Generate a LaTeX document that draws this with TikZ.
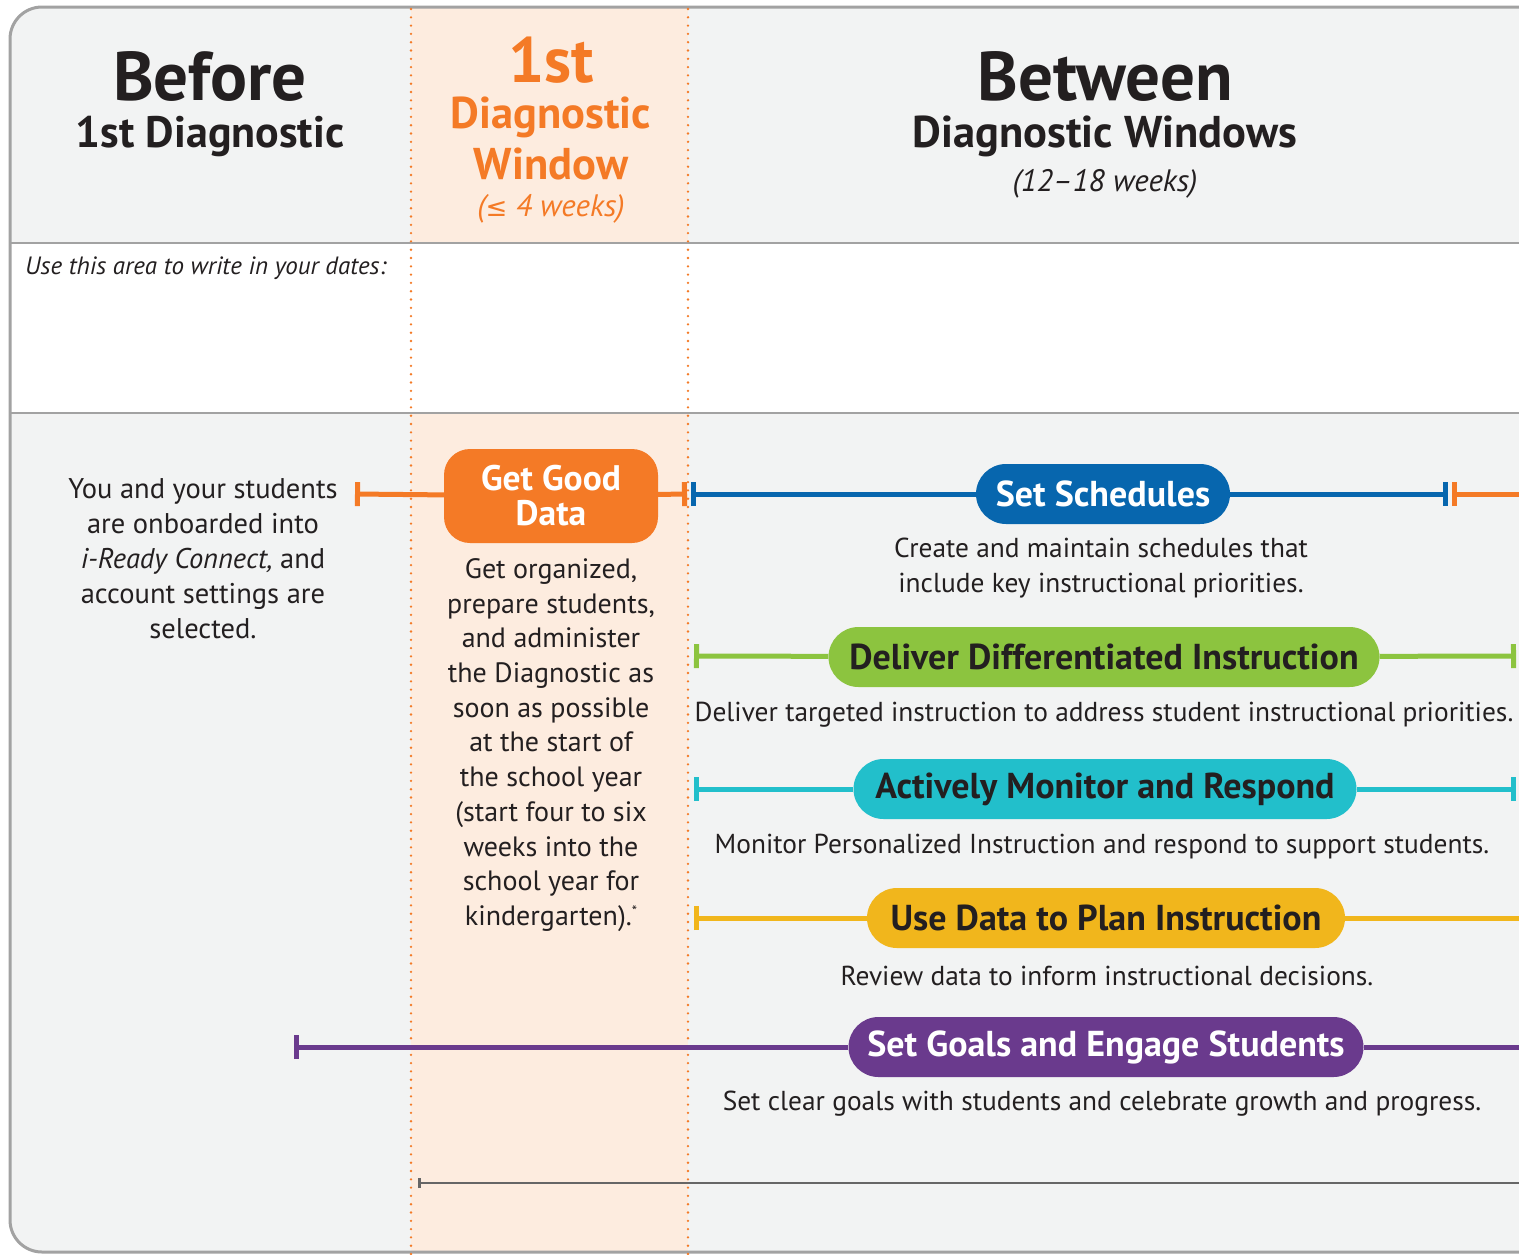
\documentclass[tikz,border=0pt]{standalone}
\usepackage{fontspec}
\setmainfont{PT Sans}
\newfontfamily\symfont{DejaVu Sans}
\usetikzlibrary{arrows.meta}

\definecolor{gdorange}{HTML}{F47A26}
\definecolor{ssblue}{HTML}{0766AE}
\definecolor{ddgreen}{HTML}{8CC43F}
\definecolor{amteal}{HTML}{22BFCB}
\definecolor{udyellow}{HTML}{F1B61C}
\definecolor{sgpurple}{HTML}{6A3A8D}
\definecolor{panel}{HTML}{F2F3F3}
\definecolor{peach}{HTML}{FDECDF}
\definecolor{rule}{HTML}{A2A2A2}
\definecolor{ink}{HTML}{231F20}

\tikzstyle{pill} = [rounded corners=30pt, minimum height=60pt, inner sep=0pt, text=white, font=\fontsize{36}{38}\selectfont\bfseries]
\tikzstyle{desc} = [text=ink, font=\fontsize{27.4}{35}\selectfont, align=center]
\tikzstyle{bar} = [line width=5pt]

\begin{document}
\begin{tikzpicture}[x=1pt,y=-1pt,every node/.style={inner sep=0pt}]
  \useasboundingbox (0,0) rectangle (1519,1254);
  % panels
  \fill[white] (0,0) rectangle (1519,1254);
  \fill[panel, rounded corners=32pt] (10,7) rectangle (1580,1252);
  \fill[white] (10,243) rectangle (1580,413);
  \fill[peach] (411,7) rectangle (688,243);
  \fill[peach] (411,413) rectangle (688,1252);
  \draw[rule, line width=1.5pt] (10,243) -- (1519,243);
  \draw[rule, line width=1.5pt] (10,413) -- (1519,413);
  \draw[rule, line width=3pt, rounded corners=32pt] (1580,7) -- (10,7) -- (10,1252) -- (1580,1252);
  \draw[gdorange, line width=2.6pt, line cap=round, dash pattern=on 0pt off 8.3pt] (411,9) -- (411,1254);
  \draw[gdorange, line width=2.6pt, line cap=round, dash pattern=on 0pt off 8.3pt] (688,9) -- (688,1254);

  % headers
  \node[text=ink, font=\fontsize{69}{70}\selectfont\bfseries] (before) at (210,76) {Before};
  \node[text=ink, font=\fontsize{44}{46}\selectfont\bfseries] (beforesub) at (210,136) {1st Diagnostic};
  \node[text=gdorange, font=\fontsize{64}{66}\selectfont\bfseries] (first) at (551,60) {1st};
  \node[text=gdorange, font=\fontsize{44.5}{46}\selectfont\bfseries] (firstsub) at (551,117) {Diagnostic};
  \node[text=gdorange, font=\fontsize{44.5}{46}\selectfont\bfseries] (firstwin) at (551,164) {Window};
  \node[text=gdorange, font=\fontsize{31}{34}\selectfont\itshape] (firstlen) at (551,209) {({\symfont\upshape\fontsize{26}{30}\selectfont ≤} 4 weeks)};
  \node[text=ink, font=\fontsize{69}{70}\selectfont\bfseries] (between) at (1105,76) {Between};
  \node[text=ink, font=\fontsize{44.5}{46}\selectfont\bfseries] (betweensub) at (1105,136) {Diagnostic Windows};
  \node[text=ink, font=\fontsize{31}{34}\selectfont\itshape] (betweenlen) at (1105,184) {(12--18 weeks)};
  \node[text=ink, font=\fontsize{25}{28}\selectfont\itshape, anchor=west] (dates) at (25,268) {Use this area to write in your dates:};

  % left and window column texts
  \node[desc, font=\fontsize{28.5}{35}\selectfont] (onboard) at (203,559) {You and your students\\are onboarded into\\\textit{i-Ready Connect,} and\\account settings are\\selected.};
  \node[desc, font=\fontsize{28}{34.7}\selectfont] (gooddesc) at (551,745) {Get organized,\\prepare students,\\and administer\\the Diagnostic as\\soon as possible\\at the start of\\the school year\\(start four to six\\weeks into the\\school year for\\kindergarten).\raisebox{9pt}{\fontsize{15}{15}\selectfont *}};

  % pills
  \node[pill, fill=gdorange, rounded corners=26pt, minimum width=214pt, minimum height=94pt, align=center, font=\fontsize{35.5}{35}\selectfont\bfseries] (gooddata) at (551,496) {Get Good\\Data};
  \node[pill, fill=ssblue, minimum width=254pt] (sched) at (1103,494) {Set Schedules};
  \node[pill, fill=ddgreen, text=ink, minimum width=551pt] (deliver) at (1104,657) {Deliver Differentiated Instruction};
  \node[pill, fill=amteal, text=ink, minimum width=503pt] (monitor) at (1105,789) {Actively Monitor and Respond};
  \node[pill, fill=udyellow, text=ink, minimum width=478pt] (usedata) at (1106,918) {Use Data to Plan Instruction};
  \node[pill, fill=sgpurple, minimum width=515pt] (goals) at (1106,1047) {Set Goals and Engage Students};

  % descriptions
  \node[desc] (scheddesc) at (1101,568) {Create and maintain schedules that\\include key instructional priorities.};
  \node[desc] (deliverdesc) at (1104,715) {Deliver targeted instruction to address student instructional priorities.};
  \node[desc] (monitordesc) at (1102,847) {Monitor Personalized Instruction and respond to support students.};
  \node[desc] (usedatadesc) at (1107,976) {Review data to inform instructional decisions.};
  \node[desc] (goalsdesc) at (1102,1104) {Set clear goals with students and celebrate growth and progress.};

  % bar ends
  \coordinate (gd-l) at (355,494);
  \coordinate (gd-r) at (687,494);
  \coordinate (ss-l) at (691,494);
  \coordinate (ss-r) at (1448,494);
  \coordinate (nx-l) at (1452,494);
  \coordinate (nx-r) at (1525,494);
  \coordinate (dd-l) at (694,656);
  \coordinate (dd-r) at (1516,656);
  \coordinate (am-l) at (694,789);
  \coordinate (am-r) at (1516,789);
  \coordinate (ud-l) at (694,918);
  \coordinate (ud-r) at (1525,918);
  \coordinate (sg-l) at (294,1047);
  \coordinate (sg-r) at (1525,1047);
  \coordinate (tl-l) at (418,1183);
  \coordinate (tl-r) at (1525,1183);

  % bars
  \draw[bar, gdorange, {Bar[width=24pt]}-] (gd-l) -- (gooddata);
  \draw[bar, gdorange, -{Bar[width=24pt]}] (gooddata) -- (gd-r);
  \draw[bar, ssblue, {Bar[width=24pt]}-] (ss-l) -- (sched);
  \draw[bar, ssblue, -{Bar[width=24pt]}] (sched) -- (ss-r);
  \draw[bar, gdorange, {Bar[width=24pt]}-] (nx-l) -- (nx-r);
  \draw[bar, ddgreen, {Bar[width=24pt]}-] (dd-l) -- (deliver);
  \draw[bar, ddgreen, -{Bar[width=24pt]}] (deliver) -- (dd-r);
  \draw[bar, amteal, {Bar[width=24pt]}-] (am-l) -- (monitor);
  \draw[bar, amteal, -{Bar[width=24pt]}] (monitor) -- (am-r);
  \draw[bar, udyellow, {Bar[width=24pt]}-] (ud-l) -- (usedata);
  \draw[bar, udyellow] (usedata) -- (ud-r);
  \draw[bar, sgpurple, {Bar[width=24pt]}-] (sg-l) -- (goals);
  \draw[bar, sgpurple] (goals) -- (sg-r);
  \draw[line width=2.5pt, black!60, {Bar[width=10pt]}-] (tl-l) -- (tl-r);
\end{tikzpicture}
\end{document}
